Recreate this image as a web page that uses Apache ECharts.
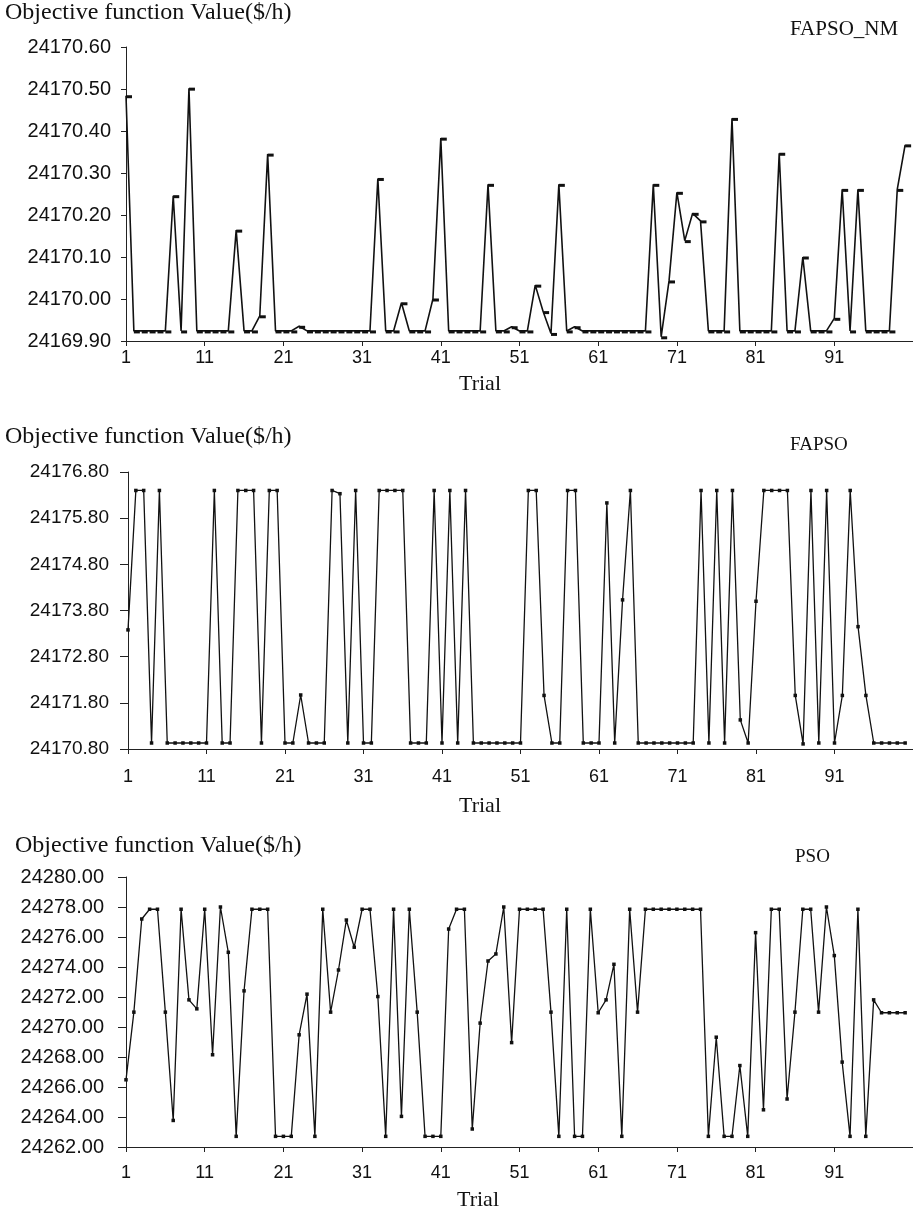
<!DOCTYPE html>
<html>
<head>
<meta charset="utf-8">
<script src="https://cdn.jsdelivr.net/npm/echarts@6/dist/echarts.min.js"></script>
<style>
  html, body { margin: 0; padding: 0; background: #fff; }
  #box { width: 913px; height: 1216px; }
</style>
</head>
<body>
<div id="box"></div>
<script>
// trial index, one extra slot so the axis runs a bit past trial 100
var trials = [];
for (var t = 1; t <= 101; t++) trials.push(String(t));

var yTicksNM = [24169.90, 24170.00, 24170.10, 24170.20, 24170.30, 24170.40, 24170.50, 24170.60];
var yTicksFA = [24170.80, 24171.80, 24172.80, 24173.80, 24174.80, 24175.80, 24176.80];
var yTicksPSO = [24262, 24264, 24266, 24268, 24270, 24272, 24274, 24276, 24278, 24280];

var fapsoNM = [
    24170.484, 24169.924, 24169.924, 24169.924, 24169.924, 24169.924, 24170.246, 24169.924, 24170.502, 24169.924,
    24169.924, 24169.924, 24169.924, 24169.924, 24170.164, 24169.924, 24169.924, 24169.960, 24170.345, 24169.924,
    24169.924, 24169.924, 24169.935, 24169.924, 24169.924, 24169.924, 24169.924, 24169.924, 24169.924, 24169.924,
    24169.924, 24169.924, 24170.287, 24169.924, 24169.924, 24169.991, 24169.924, 24169.924, 24169.924, 24170.000,
    24170.383, 24169.924, 24169.924, 24169.924, 24169.924, 24169.924, 24170.273, 24169.924, 24169.924, 24169.934,
    24169.924, 24169.924, 24170.033, 24169.970, 24169.918, 24170.273, 24169.924, 24169.934, 24169.924, 24169.924,
    24169.924, 24169.924, 24169.924, 24169.924, 24169.924, 24169.924, 24169.924, 24170.273, 24169.910, 24170.043,
    24170.254, 24170.139, 24170.204, 24170.186, 24169.924, 24169.924, 24169.924, 24170.430, 24169.924, 24169.924,
    24169.924, 24169.924, 24169.924, 24170.347, 24169.924, 24169.924, 24170.100, 24169.924, 24169.924, 24169.924,
    24169.954, 24170.261, 24169.924, 24170.261, 24169.924, 24169.924, 24169.924, 24169.924, 24170.261, 24170.367
];

var fapso = [
    24173.38, 24176.40, 24176.40, 24170.93, 24176.40, 24170.93, 24170.93, 24170.93, 24170.93, 24170.93,
    24170.93, 24176.40, 24170.93, 24170.93, 24176.40, 24176.40, 24176.40, 24170.93, 24176.40, 24176.40,
    24170.93, 24170.93, 24171.97, 24170.93, 24170.93, 24170.93, 24176.40, 24176.33, 24170.93, 24176.40,
    24170.93, 24170.93, 24176.40, 24176.40, 24176.40, 24176.40, 24170.93, 24170.93, 24170.93, 24176.40,
    24170.93, 24176.40, 24170.93, 24176.40, 24170.93, 24170.93, 24170.93, 24170.93, 24170.93, 24170.93,
    24170.93, 24176.40, 24176.40, 24171.96, 24170.93, 24170.93, 24176.40, 24176.40, 24170.93, 24170.93,
    24170.93, 24176.13, 24170.93, 24174.03, 24176.40, 24170.93, 24170.93, 24170.93, 24170.93, 24170.93,
    24170.93, 24170.93, 24170.93, 24176.40, 24170.93, 24176.40, 24170.93, 24176.40, 24171.43, 24170.93,
    24174.00, 24176.40, 24176.40, 24176.40, 24176.40, 24171.96, 24170.91, 24176.40, 24170.93, 24176.40,
    24170.93, 24171.96, 24176.40, 24173.45, 24171.96, 24170.93, 24170.93, 24170.93, 24170.93, 24170.93
];

var pso = [
    24266.48, 24270.99, 24277.20, 24277.85, 24277.85, 24270.99, 24263.77, 24277.85, 24271.81, 24271.21,
    24277.85, 24268.15, 24278.00, 24274.98, 24262.71, 24272.41, 24277.85, 24277.85, 24277.85, 24262.71,
    24262.71, 24262.71, 24269.48, 24272.19, 24262.71, 24277.85, 24270.99, 24273.80, 24277.13, 24275.32,
    24277.85, 24277.85, 24272.03, 24262.71, 24277.85, 24264.04, 24277.85, 24270.99, 24262.71, 24262.71,
    24262.71, 24276.53, 24277.85, 24277.85, 24263.20, 24270.26, 24274.40, 24274.87, 24278.00, 24268.96,
    24277.85, 24277.85, 24277.85, 24277.85, 24270.99, 24262.71, 24277.85, 24262.71, 24262.71, 24277.85,
    24270.95, 24271.81, 24274.18, 24262.71, 24277.85, 24270.99, 24277.85, 24277.85, 24277.85, 24277.85,
    24277.85, 24277.85, 24277.85, 24277.85, 24262.71, 24269.32, 24262.71, 24262.71, 24267.43, 24262.71,
    24276.29, 24264.48, 24277.85, 24277.85, 24265.20, 24270.99, 24277.85, 24277.85, 24270.99, 24278.00,
    24274.76, 24267.66, 24262.71, 24277.85, 24262.71, 24271.81, 24270.95, 24270.95, 24270.95, 24270.95
];

var serif = '"Liberation Serif", "Times New Roman", serif';
var sans = '"Liberation Sans", Arial, sans-serif';

function showTick(index) {
    return index % 10 === 0 && index < 100;
}

function xAx(grid, margin) {
    return {
        type: 'category',
        gridIndex: grid,
        data: trials,
        boundaryGap: false,
        axisLine: { lineStyle: { color: '#222', width: 1 } },
        axisTick: { show: true, interval: showTick, length: 5, lineStyle: { color: '#222' } },
        axisLabel: {
            interval: showTick,
            margin: margin,
            color: '#111',
            fontFamily: sans,
            fontSize: 18
        },
        splitLine: { show: false }
    };
}

function yAx(grid, ticks, margin, tickLen, size) {
    return {
        type: 'value',
        gridIndex: grid,
        min: ticks[0],
        max: ticks[ticks.length - 1],
        interval: ticks[1] - ticks[0],
        axisLine: { show: true, lineStyle: { color: '#222', width: 1 } },
        axisTick: { show: true, length: tickLen, lineStyle: { color: '#222' } },
        axisLabel: {
            margin: margin,
            color: '#111',
            fontFamily: sans,
            fontSize: size,
            formatter: function (v) { return v.toFixed(2); }
        },
        splitLine: { show: false }
    };
}

function txt(x, y, s, size) {
    return {
        type: 'text',
        x: x,
        y: y,
        style: {
            text: s,
            font: size + 'px ' + serif,
            fill: '#111',
            verticalAlign: 'middle'
        }
    };
}

function centerTxt(x, y, s, size) {
    var o = txt(x, y, s, size);
    o.style.align = 'center';
    return o;
}

var myChart = echarts.init(document.getElementById('box'));
var option = {
    backgroundColor: '#fff',
    animation: false,
    grid: [
        { left: 126, top: 47, height: 294, right: 0 },
        { left: 128, top: 472, height: 277, right: 0 },
        { left: 126, top: 877, height: 270, right: 0 }
    ],
    xAxis: [xAx(0, 8), xAx(1, 19), xAx(2, 17)],
    yAxis: [
        yAx(0, yTicksNM, 15, 5, 20),
        yAx(1, yTicksFA, 19, 8, 19),
        yAx(2, yTicksPSO, 22, 8, 20)
    ],
    series: [{
        name: 'FAPSO_NM',
        type: 'line',
        xAxisIndex: 0,
        yAxisIndex: 0,
        data: fapsoNM,
        symbol: 'rect',
        symbolSize: [6, 3],
        symbolOffset: [3, 1],
        itemStyle: { color: '#111' },
        lineStyle: { color: '#111', width: 1.6 }
    }, {
        name: 'FAPSO',
        type: 'line',
        xAxisIndex: 1,
        yAxisIndex: 1,
        data: fapso,
        symbol: 'rect',
        symbolSize: 3.5,
        itemStyle: { color: '#111' },
        lineStyle: { color: '#111', width: 1.3 }
    }, {
        name: 'PSO',
        type: 'line',
        xAxisIndex: 2,
        yAxisIndex: 2,
        data: pso,
        symbol: 'rect',
        symbolSize: 3.5,
        itemStyle: { color: '#111' },
        lineStyle: { color: '#111', width: 1.3 }
    }],
    graphic: [
        txt(5, 13, 'Objective function Value($/h)', 24),
        txt(5, 437, 'Objective function Value($/h)', 24),
        txt(15, 846, 'Objective function Value($/h)', 24),
        txt(790, 29, 'FAPSO_NM', 21),
        txt(790, 445, 'FAPSO', 19),
        txt(795, 857, 'PSO', 19),
        centerTxt(480, 384, 'Trial', 22),
        centerTxt(480, 806, 'Trial', 22),
        centerTxt(478, 1200, 'Trial', 22)
    ]
};
myChart.setOption(option);
</script>
</body>
</html>
